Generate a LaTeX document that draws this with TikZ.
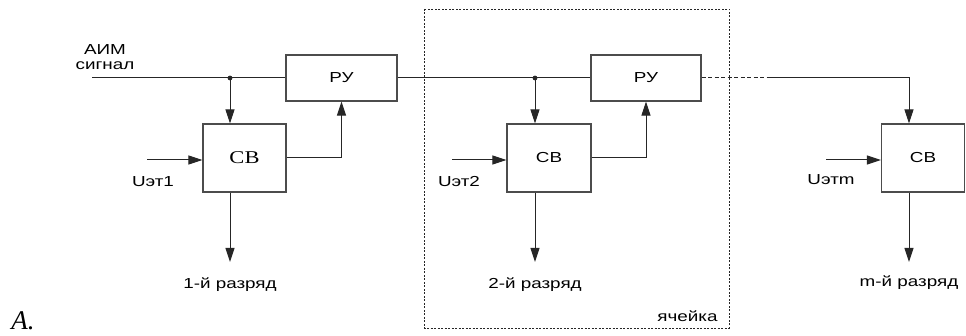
\documentclass[tikz,border=0pt]{standalone}
\usepackage{fontspec}
\setmainfont{Liberation Sans}[FakeStretch=1.3]
\newfontfamily\timesf{Liberation Serif}[FakeStretch=1.25]
\newfontfamily\timesi{Liberation Serif Italic}
\usetikzlibrary{arrows.meta,positioning}

\begin{document}
\begin{tikzpicture}[x=1pt,y=-1pt,>={Triangle[length=14pt,width=9pt]},
  block/.style={draw=black!70,line width=1.1pt,inner sep=0pt,text=black,
  font=\fontsize{14.5}{16}\selectfont},
  lbl/.style={inner sep=0pt,text=black,font=\fontsize{14.5}{16}\selectfont},
  every path/.style={line width=1pt,color=black!85}]
\useasboundingbox (0,0) rectangle (966,336);
% cell boundary
\draw[dashed,dash pattern=on 2pt off 1.5pt,line width=0.8pt] (424,9) rectangle (729,328);
\node[lbl,anchor=base east] (cell) at (718,322) {ячейка};
% blocks
\node[block,minimum width=111pt,minimum height=46pt] (ru1) at (341.5,78) {РУ};
\node[block,minimum width=83pt,minimum height=68pt,font=\timesf\fontsize{18}{19}\selectfont] (cb1) at (244.5,158) {СВ};
\node[block,minimum width=110pt,minimum height=46pt] (ru2) at (646,78) {РУ};
\node[block,minimum width=84pt,minimum height=68pt] (cb2) at (549,158) {СВ};
\node[block,minimum width=83pt,minimum height=68pt] (cb3) at (923,158) {СВ};
% signal path
\coordinate (sig) at (92,78);
\coordinate (dot1) at (230,78);
\coordinate (dot2) at (535,78);
\coordinate (dsh) at (770,78);
\coordinate (turn) at (909,78);
\node[lbl,align=center,anchor=south] (aim) at (105,70) {АИМ\\[-1pt]сигнал};
\draw (sig) -- (ru1.west);
\draw (ru1.east) -- (ru2.west);
\draw[dashed,dash pattern=on 4pt off 2.5pt] (ru2.east) -- (dsh);
\draw[->] (dsh) -- (turn) -- (turn |- cb3.north);
\fill[black!85] (dot1) circle (2.4pt) (dot2) circle (2.4pt);
\draw[->] (dot1) -- (dot1 |- cb1.north);
\draw[->] (dot2) -- (dot2 |- cb2.north);
\draw[->] (cb1.east) -| (ru1.south);
\draw[->] (cb2.east) -| (ru2.south);
% reference inputs
\coordinate (in1) at (147,160);
\coordinate (in2) at (452,160);
\coordinate (in3) at (826,160);
\draw[->] (in1) -- (in1 -| cb1.west);
\draw[->] (in2) -- (in2 -| cb2.west);
\draw[->] (in3) -- (in3 -| cb3.west);
\node[lbl] (u1) at (153,182) {Uэт1};
\node[lbl] (u2) at (459,182) {Uэт2};
\node[lbl] (um) at (831,180) {Uэтm};
% outputs
\coordinate (o1) at (230,262);
\coordinate (o2) at (535,262);
\coordinate (o3) at (909,262);
\draw[->] (o1 |- cb1.south) -- (o1);
\draw[->] (o2 |- cb2.south) -- (o2);
\draw[->] (o3 |- cb3.south) -- (o3);
\node[lbl,below=15pt of o1] (r1) {1-й разряд};
\node[lbl,below=15pt of o2] (r2) {2-й разряд};
\node[lbl,below=13pt of o3] (rm) {m-й разряд};
\node[anchor=base west,inner sep=0pt,text=black,font=\timesi\fontsize{27}{28}\selectfont] (fig) at (11,330) {A.};
\end{tikzpicture}
\end{document}
